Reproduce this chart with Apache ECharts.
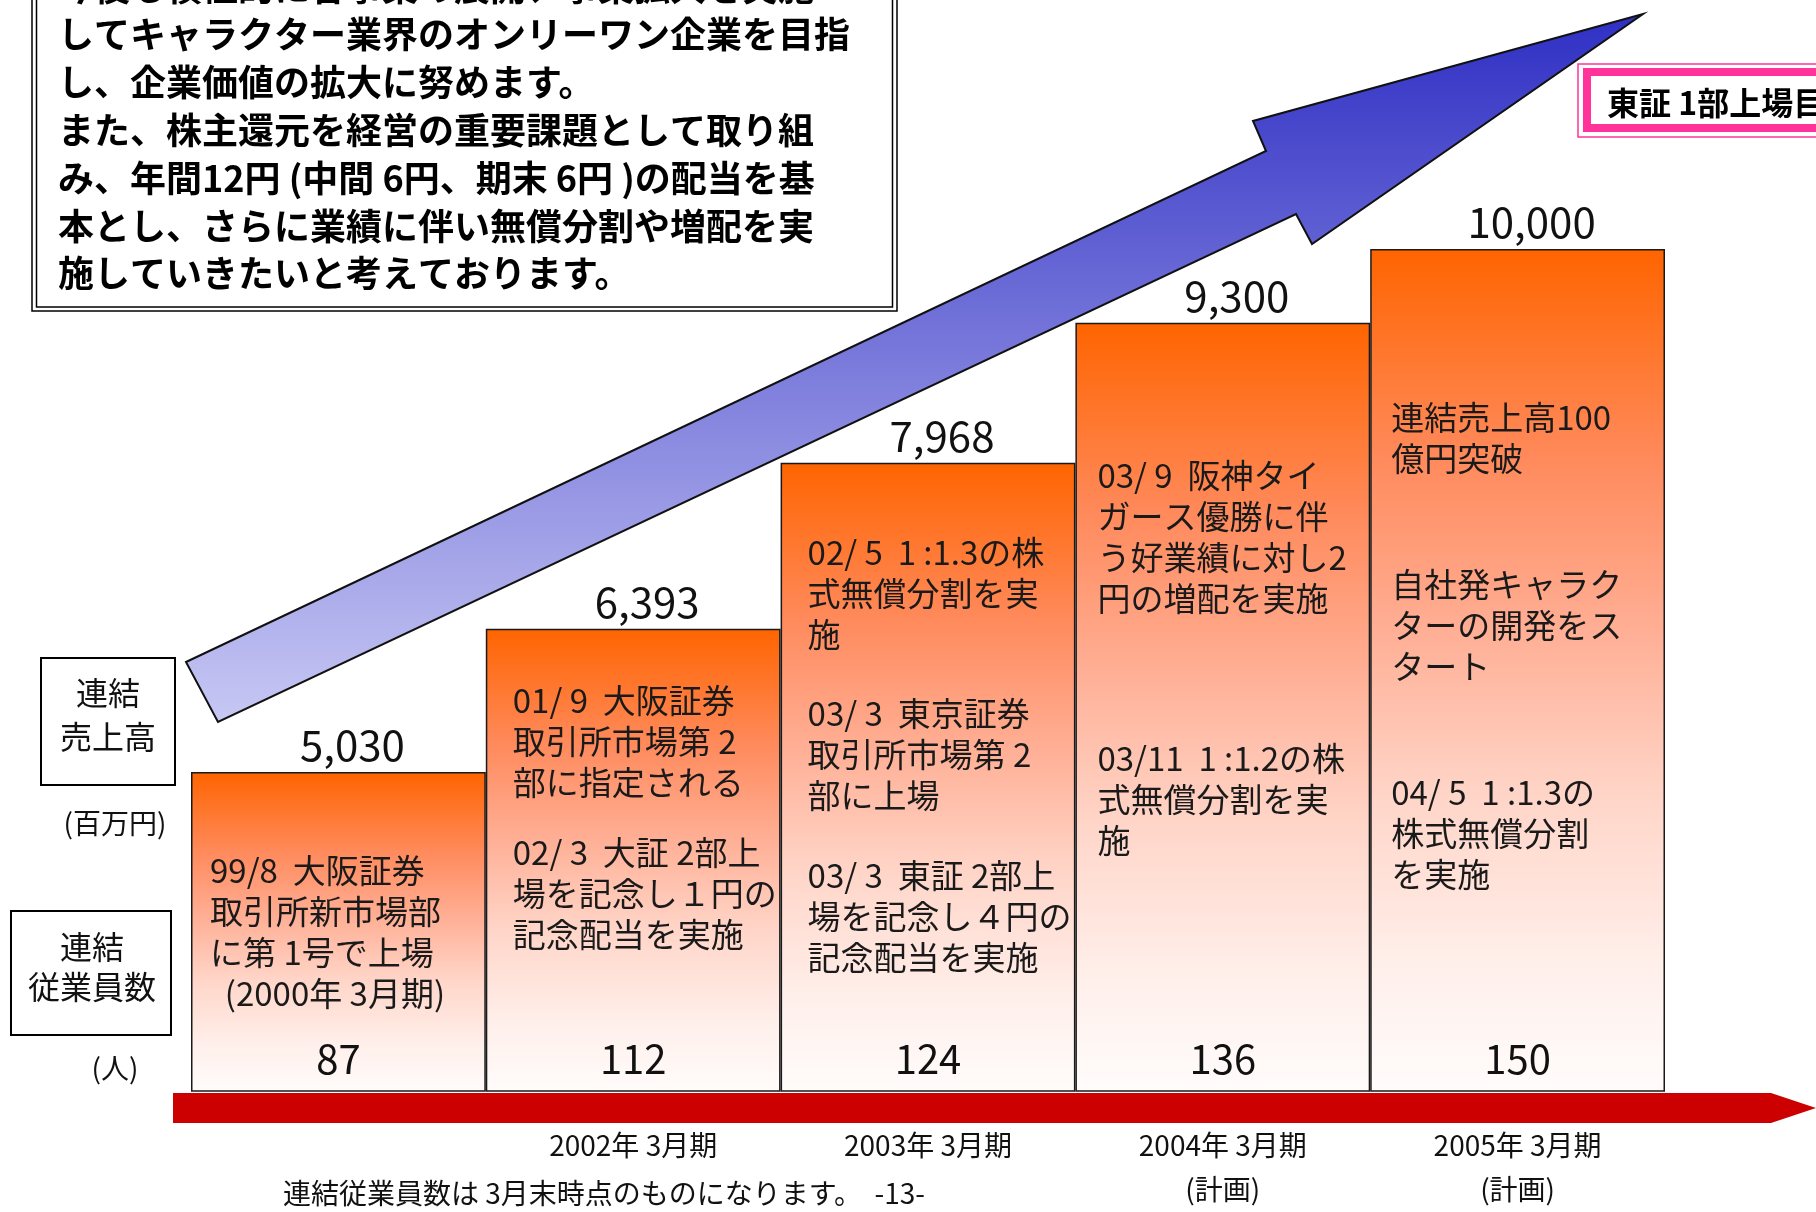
<!DOCTYPE html>
<html>
<head>
<meta charset="utf-8">
<script src="https://cdn.jsdelivr.net/npm/echarts@6/dist/echarts.min.js"></script>
<style>
  html, body { margin: 0; padding: 0; background: #ffffff; }
  #chart { width: 1816px; height: 1212px; }
</style>
</head>
<body>
<div id="chart"></div>
<script>
// ---- data ----
const categories = ['2000年 3月期', '2002年 3月期', '2003年 3月期', '2004年 3月期', '2005年 3月期'];
const axisLabels = ['', '2002年 3月期', '2003年 3月期', '2004年 3月期\n(計画)', '2005年 3月期\n(計画)'];
const sales = [5030, 6393, 7968, 9300, 10000];          // 連結売上高（百万円）
const employees = [87, 112, 124, 136, 150];             // 連結従業員数（人）
const notes = [
  ['99/8  大阪証券\n取引所新市場部\nに第 1号で上場\n  (2000年 3月期)'],
  ['01/ 9  大阪証券\n取引所市場第 2\n部に指定される', '02/ 3  大証 2部上\n場を記念し１円の\n記念配当を実施'],
  ['02/ 5  1 :1.3の株\n式無償分割を実\n施', '03/ 3  東京証券\n取引所市場第 2\n部に上場', '03/ 3  東証 2部上\n場を記念し４円の\n記念配当を実施'],
  ['03/ 9  阪神タイ\nガース優勝に伴\nう好業績に対し2\n円の増配を実施', '03/11  1 :1.2の株\n式無償分割を実\n施'],
  ['連結売上高100\n億円突破', '自社発キャラク\nターの開発をス\nタート', '04/ 5  1 :1.3の\n株式無償分割\nを実施']
];
const headerLines = [
  '今後も積極的に各事業の展開、事業拡大を実施',
  'してキャラクター業界のオンリーワン企業を目指',
  'し、企業価値の拡大に努めます。',
  'また、株主還元を経営の重要課題として取り組',
  'み、年間12円 (中間 6円、期末 6円 )の配当を基',
  '本とし、さらに業績に伴い無償分割や増配を実',
  '施していきたいと考えております。'
];
const footerText = '連結従業員数は 3月末時点のものになります。  -13-';
const badgeText = '東証 1部上場目指す';

// ---- layout ----
const Y_MIN = 2000, Y_MAX = 10000;
const NOTE_LINE_H = 41;
const noteFirstLineY = [[870], [700, 852], [552, 713, 875], [475, 758], [417, 584, 792]];
const notePadX = [19, 27, 27, 22, 21];
const JP = '"Noto Sans CJK JP", "Noto Sans", sans-serif';

const chart = echarts.init(document.getElementById('chart'), null, { renderer: 'canvas' });

const barFill = {
  type: 'linear', x: 0, y: 0, x2: 0, y2: 1,
  colorStops: [
    { offset: 0, color: '#ff6400' },
    { offset: 0.25, color: '#ff8a5c' },
    { offset: 0.45, color: '#ffae94' },
    { offset: 0.65, color: '#ffd5c8' },
    { offset: 0.85, color: '#ffefea' },
    { offset: 1, color: '#fffcfb' }
  ]
};

const arrowFill = {
  type: 'linear', x: 0, y: 0, x2: 0, y2: 1,
  colorStops: [
    { offset: 0, color: '#2f2fc4' },
    { offset: 1, color: '#c8c8f4' }
  ]
};

const option = {
  backgroundColor: '#ffffff',
  animation: false,
  grid: { left: 191, right: 151, top: 249, bottom: 121, containLabel: false },
  xAxis: {
    type: 'category',
    data: categories,
    axisLine: { show: false },
    axisTick: { show: false },
    axisLabel: {
      formatter: (v, i) => axisLabels[i],
      fontFamily: JP, fontSize: 28, color: '#111', lineHeight: 44, margin: 32
    }
  },
  yAxis: { type: 'value', min: Y_MIN, max: Y_MAX, show: false },
  series: [
    {
      name: '連結売上高',
      type: 'bar',
      data: sales,
      barCategoryGap: '0%',
      z: 2,
      itemStyle: { color: barFill, borderColor: '#1a1a1a', borderWidth: 1.5 },
      label: {
        show: true, position: 'top', distance: 6, offset: [14, 0],
        formatter: p => p.value.toLocaleString('en-US'),
        fontFamily: JP, fontSize: 42, color: '#111'
      }
    },
    {
      name: '連結従業員数',
      type: 'custom',
      coordinateSystem: 'cartesian2d',
      data: employees.map((v, i) => [i, v]),
      encode: { x: 0 },
      z: 4,
      renderItem: (params, api) => {
        const i = params.dataIndex;
        const base = api.coord([i, Y_MIN]);
        return {
          type: 'text',
          x: base[0], y: base[1] - 12,
          style: {
            text: String(employees[i]),
            font: '40px ' + JP, fill: '#111',
            textAlign: 'center', textVerticalAlign: 'bottom'
          }
        };
      }
    },
    {
      name: 'notes',
      type: 'custom',
      coordinateSystem: 'cartesian2d',
      data: notes.map((n, i) => [i, Y_MIN]),
      encode: { x: 0 },
      z: 4,
      renderItem: (params, api) => {
        const i = params.dataIndex;
        const base = api.coord([i, Y_MIN]);
        const w = api.size([1, 0])[0];
        const left = base[0] - w / 2 + notePadX[i];
        return {
          type: 'group',
          children: notes[i].map((block, k) => ({
            type: 'text',
            x: left, y: noteFirstLineY[i][k] - NOTE_LINE_H / 2,
            style: {
              text: block, font: '33px ' + JP, fill: '#1a1a1a',
              lineHeight: NOTE_LINE_H, textAlign: 'left', textVerticalAlign: 'top'
            }
          }))
        };
      }
    }
  ],
  graphic: [
    // 時間軸の赤い矢印
    {
      type: 'polygon', z: 1,
      shape: { points: [[173, 1093], [1771, 1093], [1816, 1108], [1771, 1123], [173, 1123]] },
      style: { fill: '#cc0000' }
    },
    // 成長を示す青い矢印
    {
      type: 'polygon', z: 5,
      shape: { points: [[186, 662], [1266, 151], [1253, 121], [1643, 14], [1312, 244], [1296, 214], [218, 722]] },
      style: { fill: arrowFill, stroke: '#111', lineWidth: 2, lineJoin: 'miter' }
    },
    // 方針テキストの二重枠
    {
      type: 'rect', z: 6,
      shape: { x: 32, y: -20, width: 865, height: 331 },
      style: { fill: '#ffffff', stroke: '#000', lineWidth: 1.5 }
    },
    {
      type: 'rect', z: 6,
      shape: { x: 36.5, y: -20, width: 856, height: 327 },
      style: { fill: 'none', stroke: '#000', lineWidth: 1.5 }
    },
    {
      type: 'text', z: 7, x: 58, y: -37,
      style: {
        text: headerLines.join('\n'), font: 'bold 36px ' + JP, fill: '#000',
        lineHeight: 47.8, textAlign: 'left', textVerticalAlign: 'top'
      }
    },
    // 東証1部上場の枠
    {
      type: 'rect', z: 6,
      shape: { x: 1578, y: 64, width: 300, height: 73 },
      style: { fill: '#ffffff', stroke: '#ff3399', lineWidth: 1.5 }
    },
    {
      type: 'rect', z: 6,
      shape: { x: 1587, y: 72, width: 300, height: 56 },
      style: { fill: '#ffffff', stroke: '#ff3399', lineWidth: 8 }
    },
    {
      type: 'text', z: 7, x: 1607, y: 103,
      style: {
        text: badgeText, font: 'bold 32px ' + JP, fill: '#000',
        textAlign: 'left', textVerticalAlign: 'middle'
      }
    },
    // 左側の項目名
    {
      type: 'rect', z: 6,
      shape: { x: 41, y: 658, width: 134, height: 127 },
      style: { fill: '#ffffff', stroke: '#000', lineWidth: 2 }
    },
    {
      type: 'text', z: 7, x: 108, y: 693 - 22,
      style: {
        text: '連結\n売上高', font: '32px ' + JP, fill: '#111',
        lineHeight: 44, textAlign: 'center', textVerticalAlign: 'top'
      }
    },
    {
      type: 'text', z: 7, x: 115, y: 823,
      style: { text: '(百万円)', font: '28px ' + JP, fill: '#111', textAlign: 'center', textVerticalAlign: 'middle' }
    },
    {
      type: 'rect', z: 6,
      shape: { x: 11, y: 911, width: 160, height: 124 },
      style: { fill: '#ffffff', stroke: '#000', lineWidth: 2 }
    },
    {
      type: 'text', z: 7, x: 92, y: 947 - 20,
      style: {
        text: '連結\n従業員数', font: '32px ' + JP, fill: '#111',
        lineHeight: 40, textAlign: 'center', textVerticalAlign: 'top'
      }
    },
    {
      type: 'text', z: 7, x: 115, y: 1068,
      style: { text: '(人)', font: '28px ' + JP, fill: '#111', textAlign: 'center', textVerticalAlign: 'middle' }
    },
    // 注記
    {
      type: 'text', z: 7, x: 283, y: 1193,
      style: { text: footerText, font: '28px ' + JP, fill: '#111', textAlign: 'left', textVerticalAlign: 'middle' }
    }
  ]
};

chart.setOption(option);
</script>
</body>
</html>
